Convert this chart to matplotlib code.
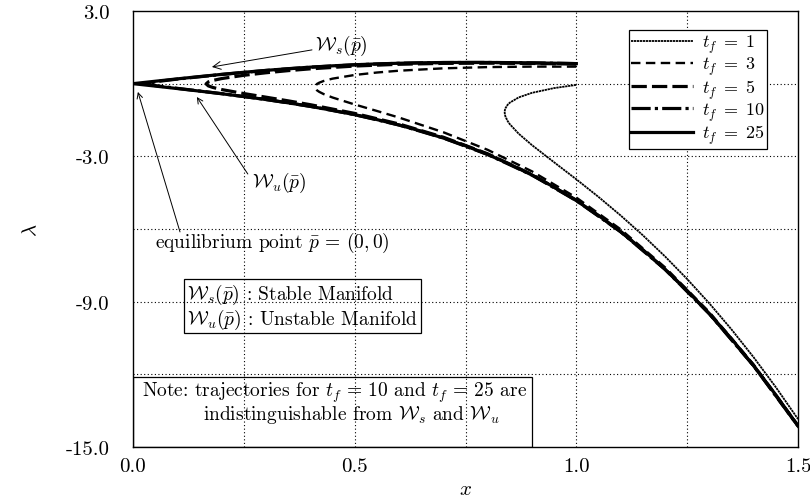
import matplotlib
matplotlib.use("Agg")
import matplotlib.pyplot as plt
from matplotlib.patches import Rectangle

plt.rcParams['font.family'] = 'serif'
plt.rcParams['font.serif'] = ['cmr10', 'DejaVu Serif']
plt.rcParams['mathtext.fontset'] = 'cm'
plt.rcParams['axes.unicode_minus'] = False

# ---------------- data ----------------
tf1_x = [1.0, 0.95, 0.9, 0.87, 0.85, 0.845, 0.84, 0.8388, 0.83835, 0.8388, 0.84, 0.845,
         0.85, 0.87, 0.9, 0.95, 1.0, 1.05, 1.1, 1.15, 1.2, 1.25, 1.3, 1.35, 1.4, 1.45, 1.5]
tf1_lam = [-0.051, -0.182, -0.378, -0.567, -0.783, -0.872, -1.019, -1.094, -1.178, -1.267,
           -1.352, -1.542, -1.674, -2.067, -2.538, -3.248, -3.949, -4.675, -5.442, -6.258,
           -7.131, -8.067, -9.070, -10.146, -11.298, -12.531, -13.847]

tf3_x = [1.0, 0.9, 0.8, 0.7, 0.6, 0.55, 0.5, 0.45, 0.43, 0.42, 0.415, 0.4102, 0.415, 0.42,
         0.43, 0.45, 0.5, 0.55, 0.6, 0.7, 0.8, 0.9, 1.0, 1.1, 1.2, 1.3, 1.4, 1.5]
tf3_lam = [0.703, 0.704, 0.684, 0.633, 0.535, 0.460, 0.359, 0.207, 0.111, 0.040, -0.011,
           -0.138, -0.275, -0.337, -0.429, -0.571, -0.859, -1.126, -1.399, -2.005, -2.732,
           -3.620, -4.703, -6.014, -7.581, -9.431, -11.593, -14.090]

tf5_x = [1.0, 0.9, 0.8, 0.7, 0.6, 0.5, 0.4, 0.35, 0.3, 0.25, 0.2, 0.18, 0.17, 0.1649, 0.17,
         0.18, 0.2, 0.25, 0.3, 0.35, 0.4, 0.5, 0.6, 0.7, 0.8, 0.9, 1.0, 1.1, 1.2, 1.3, 1.4, 1.5]
tf5_lam = [0.809, 0.835, 0.847, 0.838, 0.800, 0.727, 0.612, 0.538, 0.450, 0.346, 0.211, 0.133,
           0.073, -0.009, -0.093, -0.156, -0.243, -0.408, -0.558, -0.709, -0.868, -1.227,
           -1.664, -2.210, -2.895, -3.751, -4.809, -6.100, -7.651, -9.489, -11.640, -14.129]

tf10_x = [1.0, 0.9, 0.8, 0.7, 0.6, 0.5, 0.4, 0.3, 0.2, 0.1, 0.05, 0.03, 0.05, 0.1, 0.2, 0.3,
          0.4, 0.5, 0.6, 0.7, 0.8, 0.9, 1.0, 1.1, 1.2, 1.3, 1.4, 1.5]
tf10_lam = [0.828, 0.858, 0.875, 0.872, 0.842, 0.779, 0.680, 0.545, 0.380, 0.189, 0.080, 0.000,
            -0.080, -0.193, -0.412, -0.653, -0.936, -1.279, -1.706, -2.244, -2.923, -3.774,
            -4.828, -6.115, -7.663, -9.499, -11.649, -14.136]

# stable manifold Ws (from x=1 back to the equilibrium point)
ws_x = [1.0, 0.95, 0.9, 0.85, 0.8, 0.75, 0.7, 0.65, 0.6, 0.55, 0.5, 0.45, 0.4, 0.35, 0.3,
        0.25, 0.2, 0.15, 0.1, 0.05, 0.0]
ws_lam = [0.828, 0.845, 0.858, 0.869, 0.876, 0.877, 0.873, 0.862, 0.843, 0.816, 0.781, 0.736,
          0.682, 0.619, 0.548, 0.470, 0.384, 0.293, 0.198, 0.100, 0.0]
# unstable manifold Wu (from the equilibrium point to x=1.5)
wu_x = [0.0, 0.05, 0.1, 0.15, 0.2, 0.25, 0.3, 0.35, 0.4, 0.45, 0.5, 0.55, 0.6, 0.65, 0.7,
        0.75, 0.8, 0.85, 0.9, 0.95, 1.0, 1.05, 1.1, 1.15, 1.2, 1.25, 1.3, 1.35, 1.4, 1.45, 1.5]
wu_lam = [0.0, -0.100, -0.202, -0.307, -0.416, -0.532, -0.656, -0.791, -0.938, -1.101, -1.281,
          -1.482, -1.707, -1.961, -2.245, -2.565, -2.924, -3.326, -3.774, -4.274, -4.828,
          -5.441, -6.115, -6.855, -7.664, -8.544, -9.500, -10.534, -11.649, -12.849, -14.137]

# tf = 25 follows the manifolds
tf25_x = ws_x + wu_x[1:]
tf25_lam = ws_lam + wu_lam[1:]

x_ticks = [0.0, 0.5, 1.0, 1.5]
x_tick_labels = ["0.0", "0.5", "1.0", "1.5"]
y_ticks = [3.0, -3.0, -9.0, -15.0]
y_tick_labels = ["3.0", "-3.0", "-9.0", "-15.0"]
x_grid = [0.25, 0.5, 0.75, 1.0, 1.25]
y_grid = [0.0, -3.0, -6.0, -9.0, -12.0]

# ---------------- figure ----------------
fig = plt.figure(figsize=(8.1, 5.02), dpi=100)
ax = fig.add_axes([133 / 810, 1 - 448 / 502, 665 / 810, 436 / 502])
ax.set_xlim(0, 1.5)
ax.set_ylim(-15, 3)

for gx in x_grid:
    ax.axvline(gx, color='black', lw=0.8, ls=(0, (1, 2.2)), zorder=0)
for gy in y_grid:
    ax.axhline(gy, color='black', lw=0.8, ls=(0, (1, 2.2)), zorder=0)

ax.plot(tf1_x, tf1_lam, color='black', lw=1.3, ls=(0, (1.3, 0.35)), label=r'$t_f\;=\;1$')
ax.plot(tf3_x, tf3_lam, color='black', lw=1.7, ls=(0, (4.0, 2.3)), label=r'$t_f\;=\;3$')
ax.plot(tf5_x, tf5_lam, color='black', lw=2.3, ls=(0, (4.8, 1.6)), label=r'$t_f\;=\;5$')
ax.plot(tf10_x, tf10_lam, color='black', lw=2.3, ls=(0, (6.0, 1.3, 1.0, 1.3)), label=r'$t_f\;=\;10$')
ax.plot(tf25_x, tf25_lam, color='black', lw=2.3, ls='-', label=r'$t_f\;=\;25$')

ax.set_xticks(x_ticks)
ax.set_xticklabels(x_tick_labels)
ax.set_yticks(y_ticks)
ax.set_yticklabels(y_tick_labels)
ax.tick_params(axis='both', length=0, labelsize=15)
ax.tick_params(axis='y', pad=17)
ax.tick_params(axis='x', pad=7)
for s in ax.spines.values():
    s.set_linewidth(1.0)

ax.set_xlabel(r'$x$', fontsize=15, labelpad=4)
ax.set_ylabel(r'$\lambda$', fontsize=15, labelpad=18)

leg = ax.legend(loc='upper right', bbox_to_anchor=(0.9534, 0.9564), borderaxespad=0,
                fontsize=13, handlelength=3.4, handletextpad=0.5, labelspacing=0.0,
                frameon=True, fancybox=False, borderpad=0.15)
leg.get_frame().set_edgecolor('black')
leg.get_frame().set_linewidth(0.9)
leg.get_frame().set_alpha(1.0)

arrow = dict(arrowstyle='->', lw=0.7, color='black', shrinkA=0, shrinkB=0)
fs = 14
ax.annotate(r'$\mathcal{W}_s(\bar{p})$', xy=(0.178, 0.69), xytext=(0.41, 1.6),
            fontsize=fs, ha='left', va='center', arrowprops=arrow)
ax.text(0.268, -4.06, r'$\mathcal{W}_u(\bar{p})$', fontsize=fs, ha='left', va='center')
ax.annotate('', xy=(0.144, -0.55), xytext=(0.259, -3.73), arrowprops=arrow)
ax.annotate('', xy=(0.011, -0.34), xytext=(0.106, -6.12), arrowprops=arrow)
ax.text(0.05, -6.54, r'equilibrium point $\bar{p}\,=\,(0,0)$', fontsize=fs, ha='left', va='center')

ax.text(0.122, -8.2, r'$\mathcal{W}_s(\bar{p})$ : Stable Manifold' + '\n' +
        r'$\mathcal{W}_u(\bar{p})$ : Unstable Manifold',
        fontsize=fs, ha='left', va='top', linespacing=1.0,
        bbox=dict(boxstyle='square,pad=0.15', fc='none', ec='black', lw=0.9))

ax.add_patch(Rectangle((0, 0), 0.6, 0.1606, transform=ax.transAxes, fill=False,
                       ec='black', lw=0.9, zorder=3))
ax.text(0.02, -12.73, r'Note: trajectories for $t_f\,=\,10$ and $t_f\,=\,25$ are',
        fontsize=fs, ha='left', va='center')
ax.text(0.158, -13.64, r'indistinguishable from $\mathcal{W}_s$ and $\mathcal{W}_u$',
        fontsize=fs, ha='left', va='center')

fig.savefig('out.png', dpi=100)
